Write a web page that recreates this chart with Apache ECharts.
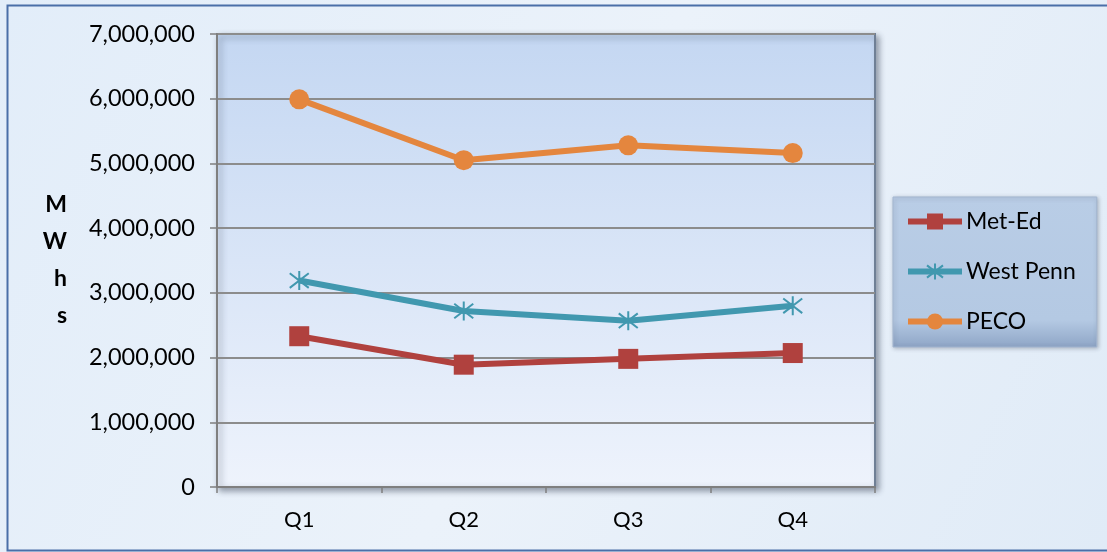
<!DOCTYPE html>
<html><head><meta charset="utf-8">
<script src="https://cdn.jsdelivr.net/npm/echarts@6/dist/echarts.min.js"></script>
<style>html,body{margin:0;padding:0;background:#e8f0f9;}#c{width:1107px;height:552px;}</style>
</head><body><div id="c"></div>
<script>
const categories = ['Q1', 'Q2', 'Q3', 'Q4'];
const metEd = [2330000, 1890000, 1980000, 2070000];
const westPenn = [3190000, 2720000, 2570000, 2800000];
const peco = [5990000, 5050000, 5280000, 5160000];
const seriesNames = ['Met-Ed', 'West Penn', 'PECO'];

const FONT = 'Lato';
const asterisk = 'path://M0,0L10,10M10,0L0,10M5,-1.5L5,11.5';
const chart = echarts.init(document.getElementById('c'), null, {renderer: 'canvas'});
chart.setOption({
  backgroundColor: {
    type: 'linear', x: 0, y: 0, x2: 1, y2: 1,
    colorStops: [{offset: 0, color: '#e2edf9'}, {offset: 0.5, color: '#ebf2fa'}, {offset: 1, color: '#e0ebf7'}]
  },
  animation: false,
  graphic: [{
    type: 'rect', left: 5, top: 3, shape: {width: 1110, height: 545},
    style: {fill: 'none', stroke: '#4a6fa8', lineWidth: 2}, silent: true
  }],
  grid: {
    left: 217, right: 232, top: 34, bottom: 65,
    show: true,
    backgroundColor: {
      type: 'linear', x: 0, y: 0, x2: 0, y2: 1,
      colorStops: [{offset: 0, color: '#c4d7f2'}, {offset: 1, color: '#eef3fc'}]
    },
    borderColor: '#6f7f95', borderWidth: 2,
    shadowColor: 'rgba(40,50,70,0.45)', shadowBlur: 6, shadowOffsetX: 3, shadowOffsetY: 3
  },
  legend: {
    orient: 'vertical', left: 893, top: 197,
    padding: [13, 21, 14, 12],
    itemGap: 27,
    itemWidth: 54, itemHeight: 20,
    lineStyle: {width: 6},
    backgroundColor: {
      type: 'linear', x: 0, y: 0, x2: 0, y2: 1,
      colorStops: [{offset: 0, color: '#b9cde6'}, {offset: 0.82, color: '#b4c9e3'}, {offset: 1, color: '#8ea5c6'}]
    },
    borderColor: '#a3b6d0', borderWidth: 1,
    shadowColor: 'rgba(40,50,70,0.3)', shadowBlur: 4, shadowOffsetX: 1, shadowOffsetY: 1,
    textStyle: {fontFamily: FONT, fontSize: 23, color: '#000', padding: [0, 0, 0, -1]},
    data: seriesNames
  },
  xAxis: {
    type: 'category', data: categories, boundaryGap: true,
    axisLine: {show: true, lineStyle: {color: '#7f7f7f', width: 2}},
    axisTick: {show: true, length: 6, lineStyle: {color: '#7f7f7f', width: 1.5}},
    axisLabel: {fontFamily: FONT, fontSize: 22, color: '#000', margin: 22},
    splitLine: {show: false}
  },
  yAxis: {
    type: 'value', min: 0, max: 7000000, interval: 1000000,
    name: 'M\nW\nh\ns', nameLocation: 'middle', nameRotate: 0, nameGap: 150,
    nameTextStyle: {fontFamily: FONT, fontSize: 23, fontWeight: 'bold', color: '#000', lineHeight: 37, padding: [22, 0, 0, 0]},
    axisLine: {show: true, lineStyle: {color: '#7f7f7f', width: 2}},
    axisTick: {show: true, length: 7, lineStyle: {color: '#7f7f7f', width: 1.5}},
    axisLabel: {fontFamily: FONT, fontSize: 23.5, color: '#000', margin: 22,
      formatter: v => v.toLocaleString('en-US')},
    splitLine: {show: true, lineStyle: {color: '#8c8c8c', width: 2}}
  },
  series: [
    {name: 'Met-Ed', type: 'line', data: metEd, symbol: 'rect', symbolSize: 20,
      lineStyle: {color: '#b0413e', width: 6}, itemStyle: {color: '#b0413e'}},
    {name: 'West Penn', type: 'line', data: westPenn, symbol: asterisk, symbolSize: 19,
      lineStyle: {color: '#4198af', width: 6},
      itemStyle: {color: '#4198af', borderColor: '#4198af', borderWidth: 2}},
    {name: 'PECO', type: 'line', data: peco, symbol: 'circle', symbolSize: 20,
      lineStyle: {color: '#e4863e', width: 6}, itemStyle: {color: '#e4863e'}}
  ]
});
</script></body></html>
